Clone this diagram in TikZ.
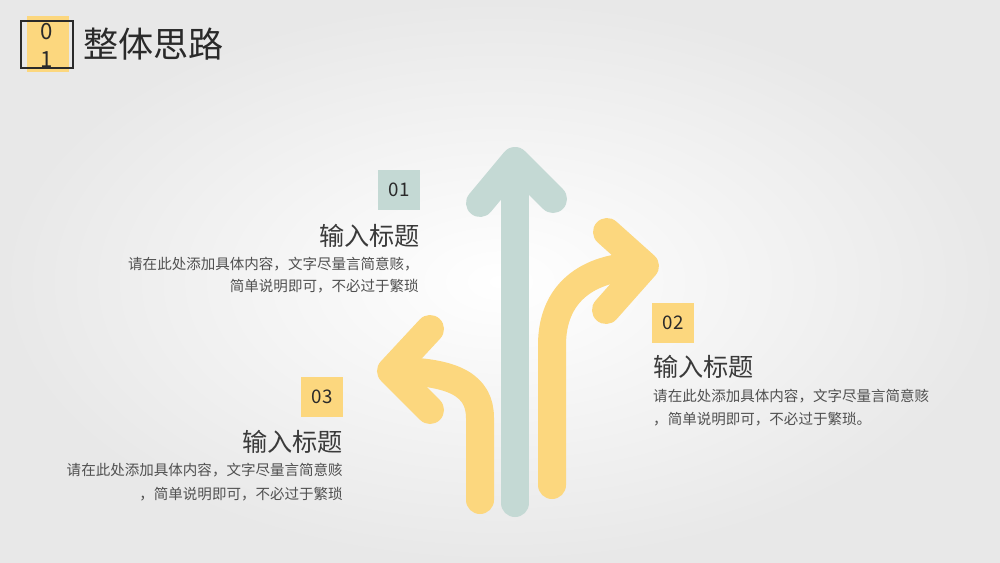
\documentclass[tikz,border=0pt]{standalone}
\usepackage{fontspec}
\setmainfont{Noto Sans CJK SC}
\definecolor{roadteal}{HTML}{C4D9D4}
\definecolor{roadyellow}{HTML}{FCD77E}
\definecolor{bggray}{HTML}{E8E8E8}
\definecolor{titlegray}{HTML}{2A2A2A}
\definecolor{headgray}{HTML}{3A3A3A}
\definecolor{bodygray}{HTML}{505050}

\begin{document}
\begin{tikzpicture}[x=0.03cm, y=-0.03cm,
    road/.style={line width=0.84cm, line cap=round, line join=round},
    numbox/.style={minimum width=1.26cm, minimum height=1.2cm, inner sep=0pt, text=titlegray, font=\fontsize{16}{16}\selectfont},
    headtext/.style={inner sep=0pt, text=headgray, font=\fontsize{21.5}{21.5}\selectfont},
    bodytext/.style={inner sep=0pt, text=bodygray, font=\fontsize{12.4}{12.4}\selectfont}]
      \def\boxline{0.06cm}

      \shade[inner color=white, outer color=bggray] (0,0) rectangle (1000,563);
      \useasboundingbox (0,0) rectangle (1000,563);

      \fill[roadyellow] (27,16) rectangle (69,72);
      \draw[line width=\boxline, titlegray] (21,21) rectangle (73,68);
      \node[inner sep=0pt, text=titlegray, font=\fontsize{19}{19}\selectfont] (titlezero) at (47,32) {0};
      \node[inner sep=0pt, text=titlegray, font=\fontsize{19}{19}\selectfont] (titleone) at (47,60) {1};
      \node[inner sep=0pt, anchor=base west, text=titlegray, font=\fontsize{30}{30}\selectfont] (title) at (83,58) {整体思路};

      \draw[road, roadyellow] (480,500) -- (480,418) .. controls (480,386) and (455,371) .. (392,371);
      \draw[road, roadyellow] (430,329) -- (391,371) -- (430,410);
      \draw[road, roadyellow] (552,485) -- (552,345) .. controls (552,295) and (585,266) .. (644,266);
      \draw[road, roadyellow] (607,232) -- (645,266) -- (606,310);
      \draw[road, roadteal] (515,503) -- (515,165);
      \draw[road, roadteal] (480,203) -- (515,161) -- (553,199);

      \node[numbox, fill=roadteal] (numone) at (399,190) {01};
      \node[headtext, anchor=base east] (headone) at (420,245) {输入标题};
      \node[bodytext, anchor=base east] (bodyonea) at (419,269) {请在此处添加具体内容，文字尽量言简意赅，};
      \node[bodytext, anchor=base east] (bodyoneb) at (419,291) {简单说明即可，不必过于繁琐};

      \node[numbox, fill=roadyellow] (numtwo) at (673,323) {02};
      \node[headtext, anchor=base west] (headtwo) at (653,376) {输入标题};
      \node[bodytext, anchor=base west] (bodytwoa) at (653,401) {请在此处添加具体内容，文字尽量言简意赅};
      \node[bodytext, anchor=base west] (bodytwob) at (653,424) {，简单说明即可，不必过于繁琐。};

      \node[numbox, fill=roadyellow] (numthree) at (322,397) {03};
      \node[headtext, anchor=base east] (headthree) at (343,451) {输入标题};
      \node[bodytext, anchor=base east] (bodythreea) at (343,475) {请在此处添加具体内容，文字尽量言简意赅};
      \node[bodytext, anchor=base east] (bodythreeb) at (343,499) {，简单说明即可，不必过于繁琐};

    \end{tikzpicture}
\end{document}
